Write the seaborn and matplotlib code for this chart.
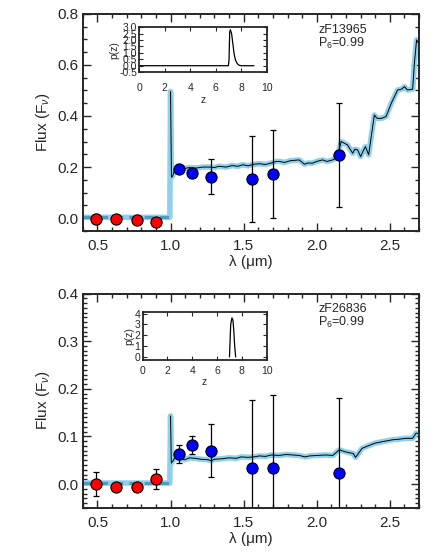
import numpy as np
import pandas as pd
import matplotlib
matplotlib.use("Agg")
import matplotlib.pyplot as plt
from matplotlib.ticker import MultipleLocator, FormatStrFormatter
import seaborn as sns

sns.set_style("ticks")
plt.rcParams['font.family'] = ['Liberation Sans', 'DejaVu Sans']
plt.rcParams['mathtext.fontset'] = 'custom'
plt.rcParams['mathtext.rm'] = 'Liberation Sans'
plt.rcParams['mathtext.it'] = 'Liberation Sans:italic'

# Photometry (wavelength in micron)
opt_lam = [0.49, 0.63, 0.77, 0.90]
nir_lam = [1.055, 1.15, 1.28, 1.555, 1.70, 2.155]

# zF13965
a_opt_flux = [-0.003, -0.005, -0.008, -0.014]
a_opt_err = [0.02, 0.008, 0.008, 0.008]
a_nir_flux = [0.193, 0.178, 0.163, 0.153, 0.174, 0.248]
a_nir_err = [0.008, 0.008, 0.068, 0.167, 0.172, 0.204]
a_model_lam = [0.40, 0.60, 0.80, 0.995, 1.0, 1.006, 1.015, 1.027, 1.05, 1.08, 1.10, 1.13,
               1.176, 1.22, 1.267, 1.30, 1.33, 1.38, 1.42, 1.46, 1.494, 1.53, 1.57, 1.608,
               1.65, 1.69, 1.722, 1.745, 1.78, 1.82, 1.88, 1.916, 1.94, 1.97, 2.0, 2.04,
               2.07, 2.11, 2.14, 2.167, 2.19, 2.21, 2.246, 2.26, 2.28, 2.30, 2.315, 2.333,
               2.355, 2.394, 2.41, 2.428, 2.45, 2.474, 2.51, 2.553, 2.58, 2.60, 2.62, 2.656,
               2.668, 2.683, 2.70]
a_model_flux = [0.003, 0.003, 0.003, 0.003, 0.496, 0.16, 0.165, 0.189, 0.19, 0.197, 0.195, 0.198,
                0.196, 0.20, 0.20, 0.198, 0.203, 0.20, 0.206, 0.203, 0.209, 0.205, 0.211, 0.213,
                0.21, 0.216, 0.222, 0.222, 0.218, 0.225, 0.228, 0.211, 0.216, 0.215, 0.222, 0.228,
                0.222, 0.228, 0.24, 0.30, 0.293, 0.287, 0.254, 0.27, 0.267, 0.241, 0.26, 0.28,
                0.248, 0.404, 0.392, 0.39, 0.392, 0.398, 0.45, 0.502, 0.505, 0.515, 0.502, 0.505,
                0.607, 0.698, 0.68]
a_z = [0.0, 7.0, 7.05, 7.1, 7.15, 7.25, 7.35, 7.45, 7.55, 7.7, 7.85, 8.0, 9.0]
a_pz = [0.0, 0.0, 0.5, 2.6, 2.8, 2.5, 1.7, 0.9, 0.45, 0.15, 0.03, 0.0, 0.0]

# zF26836
b_opt_flux = [0.0, -0.006, -0.006, 0.010]
b_opt_err = [0.026, 0.005, 0.005, 0.021]
b_nir_flux = [0.063, 0.082, 0.070, 0.033, 0.033, 0.024]
b_nir_err = [0.018, 0.018, 0.056, 0.144, 0.153, 0.157]
b_model_lam = [0.40, 0.60, 0.80, 0.995, 1.0, 1.005, 1.015, 1.027, 1.06, 1.096, 1.13, 1.164,
               1.21, 1.255, 1.28, 1.30, 1.35, 1.40, 1.45, 1.483, 1.53, 1.57, 1.608, 1.65,
               1.688, 1.74, 1.79, 1.836, 1.88, 1.92, 1.95, 2.0, 2.064, 2.11, 2.155, 2.19,
               2.22, 2.25, 2.265, 2.28, 2.31, 2.35, 2.40, 2.45, 2.52, 2.56, 2.61, 2.656,
               2.68, 2.70]
b_model_flux = [0.002, 0.002, 0.002, 0.002, 0.143, 0.044, 0.048, 0.054, 0.053, 0.051, 0.055, 0.054,
                0.052, 0.051, 0.049, 0.052, 0.053, 0.055, 0.054, 0.057, 0.056, 0.057, 0.059, 0.058,
                0.061, 0.060, 0.062, 0.061, 0.060, 0.057, 0.059, 0.060, 0.061, 0.060, 0.072, 0.068,
                0.066, 0.064, 0.056, 0.062, 0.075, 0.080, 0.086, 0.089, 0.093, 0.094, 0.096, 0.096,
                0.107, 0.106]
b_z = [7.0, 7.05, 7.1, 7.2, 7.28, 7.35, 7.42, 7.5]
b_pz = [0.0, 1.5, 3.0, 3.6, 3.4, 2.4, 1.0, 0.0]

panels = [
    dict(name="zF13965", opt_flux=a_opt_flux, opt_err=a_opt_err, nir_flux=a_nir_flux,
         nir_err=a_nir_err, mlam=a_model_lam, mflux=a_model_flux, z=a_z, pz=a_pz,
         ylim=(-0.05, 0.8), ymaj=0.2, ymin=0.05,
         pos=[0.187, 0.584, 0.759, 0.391],
         inset=[0.314, 0.870, 0.288, 0.081], iylim=(-0.5, 3.0), iymaj=0.5, ixpad=8),
    dict(name="zF26836", opt_flux=b_opt_flux, opt_err=b_opt_err, nir_flux=b_nir_flux,
         nir_err=b_nir_err, mlam=b_model_lam, mflux=b_model_flux, z=b_z, pz=b_pz,
         ylim=(-0.05, 0.4), ymaj=0.1, ymin=0.01,
         pos=[0.187, 0.085, 0.759, 0.386],
         inset=[0.322, 0.351, 0.280, 0.087], iylim=(-0.3, 4.15), iymaj=1.0, ixpad=4),
]

fig = plt.figure(figsize=(4.43, 5.55), dpi=100)

for p in panels:
    ax = fig.add_axes(p["pos"])
    model = pd.DataFrame({"lam": p["mlam"], "flux": p["mflux"]})
    blue_part = model[model["lam"] < 1.0]
    # model SED: light blue halo + thin black core
    sns.lineplot(data=model, x="lam", y="flux", ax=ax, color="#8fd0ea", lw=4.0,
                 sort=False, estimator=None, zorder=1)
    sns.lineplot(data=model[model["lam"] >= 0.999], x="lam", y="flux", ax=ax, color="black",
                 lw=0.7, sort=False, estimator=None, zorder=2)
    # short-wavelength part drawn dashed
    ax.plot(blue_part["lam"], blue_part["flux"], color="#4f9cc0", lw=2.2,
            linestyle=(0, (3, 2)), zorder=2)

    ax.errorbar(opt_lam, p["opt_flux"], yerr=p["opt_err"], fmt="none", ecolor="black",
                elinewidth=0.9, capsize=2.3, capthick=0.9, zorder=3)
    ax.errorbar(nir_lam, p["nir_flux"], yerr=p["nir_err"], fmt="none", ecolor="black",
                elinewidth=0.9, capsize=2.3, capthick=0.9, zorder=3)
    sns.scatterplot(x=opt_lam, y=p["opt_flux"], ax=ax, color="#ff0000", s=65,
                    edgecolor="black", linewidth=0.8, zorder=4)
    sns.scatterplot(x=nir_lam, y=p["nir_flux"], ax=ax, color="#0000ff", s=65,
                    edgecolor="black", linewidth=0.8, zorder=4)

    ax.set_xlim(0.4, 2.7)
    ax.set_ylim(*p["ylim"])
    ax.xaxis.set_major_locator(MultipleLocator(0.5))
    ax.xaxis.set_minor_locator(MultipleLocator(0.1))
    ax.yaxis.set_major_locator(MultipleLocator(p["ymaj"]))
    ax.yaxis.set_minor_locator(MultipleLocator(p["ymin"]))
    ax.xaxis.set_major_formatter(FormatStrFormatter("%.1f"))
    ax.yaxis.set_major_formatter(FormatStrFormatter("%.1f"))
    ax.tick_params(which="both", direction="in", top=True, right=True, width=1.0,
                   labelsize=11)
    ax.tick_params(axis="x", which="major", pad=6)
    ax.tick_params(axis="y", which="major", pad=3)
    ax.tick_params(which="major", length=6)
    ax.tick_params(which="minor", length=3)
    for s in ax.spines.values():
        s.set_linewidth(1.4)
    ax.set_xlabel("λ (μm)", fontsize=11, labelpad=1)
    ax.set_ylabel(r"Flux (F$_\nu$)", fontsize=11, labelpad=4)
    ax.text(0.70, 0.955, p["name"] + "\n" + r"P$_6$=0.99", transform=ax.transAxes,
            ha="left", va="top", fontsize=9, linespacing=1.0)

    ins = fig.add_axes(p["inset"])
    sns.lineplot(x=p["z"], y=p["pz"], ax=ins, color="black", lw=0.9, sort=False,
                 estimator=None)
    ins.set_xlim(0, 10)
    ins.set_ylim(*p["iylim"])
    ins.xaxis.set_major_locator(MultipleLocator(2))
    ins.yaxis.set_major_locator(MultipleLocator(p["iymaj"]))
    if p["iymaj"] < 1:
        ins.yaxis.set_major_formatter(FormatStrFormatter("%.1f"))
    ins.tick_params(which="both", direction="in", top=True, right=True, length=3,
                    width=0.8, labelsize=7.5)
    ins.tick_params(axis="x", pad=p["ixpad"])
    ins.tick_params(axis="y", pad=1.5)
    for s in ins.spines.values():
        s.set_linewidth(1.3)
    ins.set_xlabel("z", fontsize=7.5, labelpad=1)
    ins.set_ylabel("p(z)", fontsize=7.5, labelpad=0)

fig.savefig("out.png", dpi=100)
